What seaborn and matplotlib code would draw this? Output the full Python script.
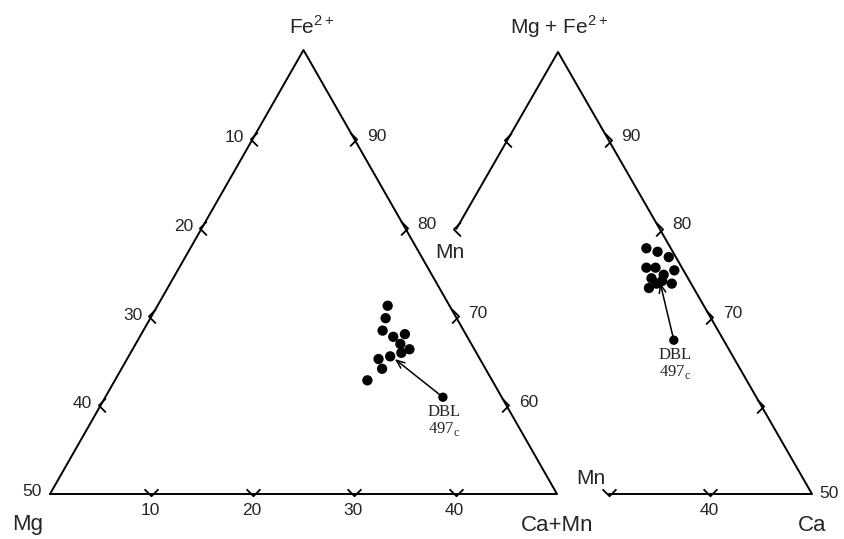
import matplotlib
matplotlib.use("Agg")
import matplotlib.pyplot as plt
import numpy as np
import seaborn as sns
from matplotlib.path import Path

# apex scale (Fe2+ or Mg+Fe2+) runs 50..100, base scale (Ca+Mn or Ca) runs 0..50
left_fe = [71.2, 69.8, 68.4, 67.7, 68.0, 66.9, 66.3, 65.9, 65.5, 65.2, 64.1, 62.8]
left_camn = [22.7, 23.2, 23.6, 25.0, 26.0, 26.1, 27.3, 26.7, 25.8, 24.8, 25.7, 24.9]
left_dbl = (60.9, 33.3)
left_dbl_tip = (65.2, 26.4)

right_fe = [77.8, 77.4, 76.8, 75.6, 75.6, 75.3, 74.8, 74.4, 74.1, 73.8, 73.3, 73.8]
right_ca = [19.8, 21.1, 22.5, 20.9, 21.8, 23.8, 23.0, 22.0, 23.2, 24.3, 22.3, 22.8]
right_dbl = (67.4, 27.7)
right_dbl_tip = (73.9, 23.1)

edge_ticks = [90, 80, 70, 60]
base_ticks = [10, 20, 30, 40]

H = np.sqrt(3) / 2


def tern(apex, base):
    a = (np.asarray(apex, dtype=float) - 50) / 50
    b = np.asarray(base, dtype=float) / 50
    return b + a / 2, a * H


# chevron tick marks
CODES = [Path.MOVETO, Path.LINETO, Path.LINETO]
CHEV_L = Path([(0.5, 0.8), (-0.3, 0), (0.5, -0.8)], CODES)
CHEV_R = Path([(-0.5, 0.8), (0.3, 0), (-0.5, -0.8)], CODES)
CHEV_D = Path([(-0.8, 0.6), (0, -0.2), (0.8, 0.6)], CODES)


def chevrons(ax, apex, base, marker):
    x, y = tern(apex, base)
    ax.plot(x, y, ls='none', marker=marker, ms=10, mfc='none', mec='black',
            mew=1.3, clip_on=False)


def label(ax, apex, base, text, dx, dy, size=12.5, **kw):
    x, y = tern(apex, base)
    ax.annotate(text, (x, y), xytext=(dx, dy), textcoords='offset points',
                ha='center', va='center', fontsize=size, annotation_clip=False, **kw)


def dbl(ax, point, tip):
    px, py = tern(*point)
    tx, ty = tern(*tip)
    ax.annotate('', xy=(tx, ty), xytext=(px, py),
                arrowprops=dict(arrowstyle='->,head_length=0.5,head_width=0.2',
                                lw=1.1, color='black', shrinkA=3, shrinkB=0))
    ax.annotate('DBL\n497$_\\mathregular{c}$', (px, py), xytext=(1, -5),
                textcoords='offset points', ha='center', va='top', fontsize=12,
                family=['Liberation Serif', 'DejaVu Serif'], linespacing=1.0)


sns.set_theme(style='white')
plt.rcParams['font.family'] = ['Liberation Sans', 'DejaVu Sans']
plt.rcParams['mathtext.fontset'] = 'custom'
plt.rcParams['mathtext.rm'] = 'Liberation Sans'

fig = plt.figure(figsize=(8.44, 5.39), dpi=100)
fig.patch.set_facecolor('white')

axl = fig.add_axes([50 / 844, 45 / 539, 507 / 844, 444 / 539])
axr = fig.add_axes([304 / 844, 45 / 539, 508 / 844, 442 / 539])
for ax in (axl, axr):
    ax.set_xlim(0, 1)
    ax.set_ylim(0, H)
    ax.set_axis_off()
    ax.patch.set_visible(False)

# ---- left diagram: Fe2+ / Mg / Ca+Mn
x, y = tern([50, 50, 100, 50], [0, 50, 0, 0])
axl.plot(x, y, color='black', lw=1.4, clip_on=False)
chevrons(axl, edge_ticks, [0] * 4, CHEV_L)
chevrons(axl, edge_ticks, [100 - v for v in edge_ticks], CHEV_R)
chevrons(axl, [50] * 4, base_ticks, CHEV_D)
for v in edge_ticks:
    label(axl, v, 0, str(100 - v), -13, 1)
    label(axl, v, 100 - v, str(v), 16, 2)
for v in base_ticks:
    label(axl, 50, v, str(v), -1, -12)
label(axl, 50, 0, '50', -13, 1.5)
label(axl, 100, 0, 'Fe$^{2+}$', 6, 17, size=15)
label(axl, 50, 0, 'Mg', -16, -22, size=16)
label(axl, 50, 50, 'Ca+Mn', 0, -23, size=16)
sns.scatterplot(x=tern(left_fe, left_camn)[0], y=tern(left_fe, left_camn)[1],
                ax=axl, color='black', s=55, edgecolor='none', legend=False, clip_on=False)
sns.scatterplot(x=[tern(*left_dbl)[0]], y=[tern(*left_dbl)[1]],
                ax=axl, color='black', s=45, edgecolor='none', legend=False)
dbl(axl, left_dbl, left_dbl_tip)

# ---- right diagram: Mg+Fe2+ / Mn / Ca
x, y = tern([80, 100, 50, 50], [0, 0, 50, 30])
axr.plot(x, y, color='black', lw=1.4, clip_on=False)
chevrons(axr, [90, 80], [0, 0], CHEV_L)
chevrons(axr, edge_ticks, [100 - v for v in edge_ticks], CHEV_R)
chevrons(axr, [50, 50], [30, 40], CHEV_D)
for v in edge_ticks[:3]:
    label(axr, v, 100 - v, str(v), 16, 3)
label(axr, 50, 40, '40', -1, -12)
label(axr, 50, 50, '50', 12, 0)
label(axr, 100, 0, 'Mg + Fe$^{2+}$', 1, 18, size=15)
label(axr, 80, 0, 'Mn', -5, -17, size=15)
label(axr, 50, 30, 'Mn', -13, 11.5, size=15)
label(axr, 50, 50, 'Ca', 0, -23, size=16)
sns.scatterplot(x=tern(right_fe, right_ca)[0], y=tern(right_fe, right_ca)[1],
                ax=axr, color='black', s=55, edgecolor='none', legend=False)
sns.scatterplot(x=[tern(*right_dbl)[0]], y=[tern(*right_dbl)[1]],
                ax=axr, color='black', s=45, edgecolor='none', legend=False)
dbl(axr, right_dbl, right_dbl_tip)

fig.savefig('out.png', dpi=100, facecolor='white')
